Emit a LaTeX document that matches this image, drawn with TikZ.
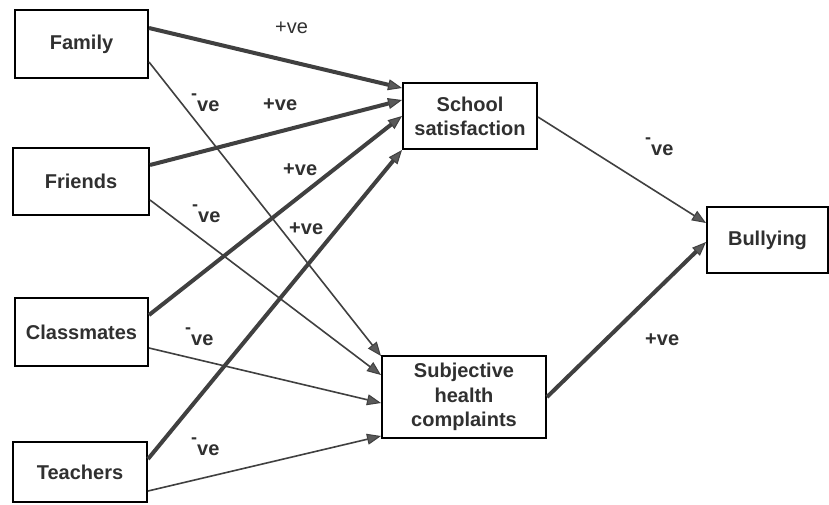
\documentclass[tikz,border=0pt]{standalone}
\usepackage{fontspec}
\setmainfont{Liberation Sans}
\usetikzlibrary{arrows.meta}
\definecolor{ln}{HTML}{404040}
\definecolor{tipfill}{HTML}{5A5A5A}
\definecolor{txt}{HTML}{303030}
\newcommand{\negve}{{\fontsize{18}{18}\selectfont\raisebox{12pt}{-}}ve}
\tikzset{
  x=1pt, y=-1pt,
  box/.style={draw=black, line width=2pt, fill=white, text=txt, font=\fontsize{20}{24}\selectfont\bfseries, align=center, inner sep=0pt},
  lbl/.style={text=txt, font=\fontsize{20}{24}\selectfont\bfseries, inner sep=0pt, anchor=base west},
  thin/.style={draw=ln, line width=1.6pt, -{Triangle[length=14pt,width=11pt,line width=1pt,fill=tipfill]}},
  thick/.style={draw=ln, line width=4pt, -{Triangle[length=14pt,width=11pt,line width=1pt,fill=tipfill]}},
}
\begin{document}
\begin{tikzpicture}
\useasboundingbox (0,0) rectangle (829,504);
\fill[white] (0,0) rectangle (829,504);
\node[box, minimum width=133pt, minimum height=68pt] (family) at (81.5,44) {Family};
\node[box, minimum width=136pt, minimum height=67pt] (friends) at (81,181.5) {Friends};
\node[box, minimum width=133pt, minimum height=68pt] (class) at (81.5,332) {Classmates};
\node[box, minimum width=134pt, minimum height=60pt] (teach) at (80,472) {Teachers};
\node[box, minimum width=134pt, minimum height=66pt] (school) at (470,116) {School\\satisfaction};
\node[box, minimum width=164pt, minimum height=82pt, font=\fontsize{20}{24.5}\selectfont\bfseries] (shc) at (464,397) {Subjective\\health\\complaints};
\node[box, minimum width=121pt, minimum height=66pt] (bully) at (767.5,240) {Bullying};

\draw[thick] ([yshift=16pt]family.east) -- ([yshift=28pt]school.west);
\draw[thick] ([yshift=16.5pt]friends.east) -- ([yshift=16pt]school.west);
\draw[thick] ([yshift=17pt]class.east) -- (school.west);
\draw[thick] ([yshift=13pt]teach.east) -- (school.south west);
\draw[thin] ([yshift=-18pt]family.east) -- ([yshift=-1pt]shc.north west);
\draw[thin] ([yshift=-18.5pt]friends.east) -- ([yshift=22pt]shc.west);
\draw[thin] ([yshift=-16pt]class.east) -- ([yshift=-6pt]shc.west);
\draw[thin] ([yshift=-19pt]teach.east) -- ([yshift=-39pt]shc.west);
\draw[thin] ([yshift=-1pt]school.east) -- ([yshift=17pt]bully.west);
\draw[thick] (shc.east) -- ([yshift=-2pt]bully.west);

\node[lbl, font=\fontsize{20}{24}\selectfont] (l1) at (275,33) {+ve};
\node[lbl] (l2) at (191,111) {\negve};
\node[lbl] (l3) at (263,110) {+ve};
\node[lbl] (l4) at (283,175) {+ve};
\node[lbl] (l5) at (192,222) {\negve};
\node[lbl] (l6) at (289,234) {+ve};
\node[lbl] (l7) at (185,345) {\negve};
\node[lbl] (l8) at (191,455) {\negve};
\node[lbl] (l9) at (645,155) {\negve};
\node[lbl] (l10) at (645,345) {+ve};
\end{tikzpicture}
\end{document}
